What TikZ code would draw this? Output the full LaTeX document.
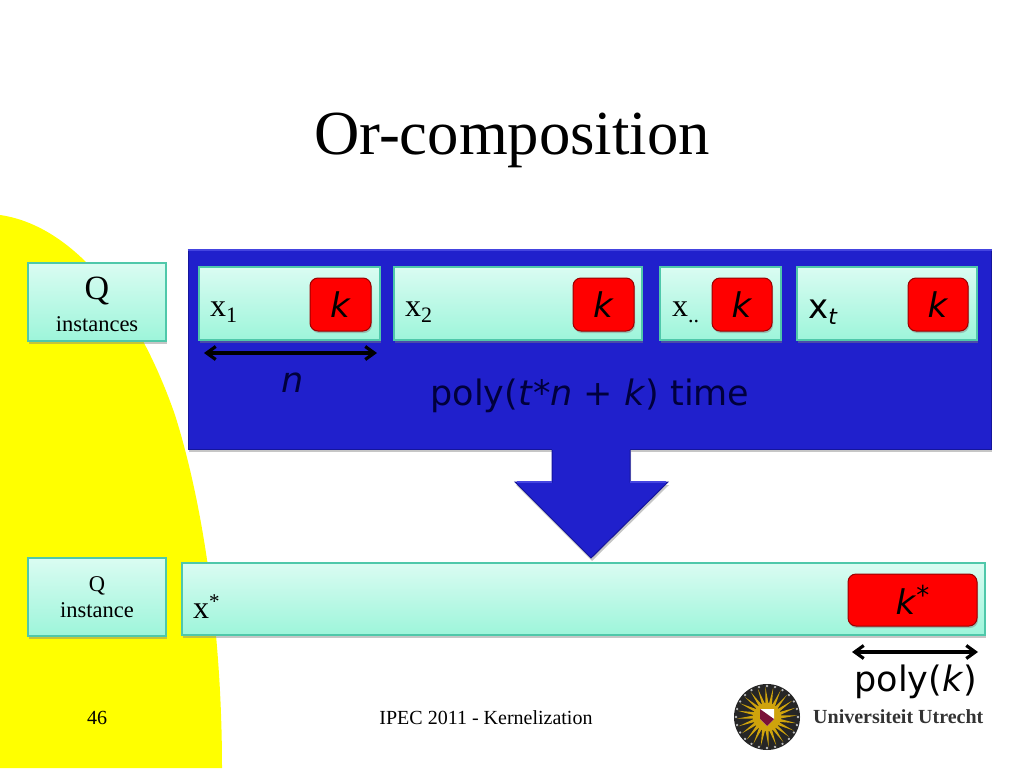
\documentclass[tikz,border=0pt]{standalone}
\usepackage{fontspec}
\setmainfont{Liberation Serif}
\setsansfont{DejaVu Sans}
\usetikzlibrary{shadows}
\usetikzlibrary{arrows.meta}
\definecolor{swoosh}{RGB}{255,255,0}
\definecolor{boxtop}{HTML}{DAFCF2}
\definecolor{boxbot}{HTML}{9DF5DA}
\definecolor{boxline}{HTML}{4FC8AA}
\definecolor{blueline}{HTML}{15159C}
\definecolor{bluelite}{HTML}{4444E0}
\definecolor{bluefill}{HTML}{2020CC}
\definecolor{navy}{HTML}{00003C}
\definecolor{sealgold}{HTML}{CFA30C}
\definecolor{sealred}{HTML}{7A1038}
\definecolor{kred}{RGB}{255,0,0}
\tikzstyle{inst}=[draw=boxline,line width=1.1pt,rectangle,top color=boxtop,bottom color=boxbot,inner sep=0pt,drop shadow={shadow xshift=1pt,shadow yshift=-3pt,opacity=.45}]
\tikzstyle{kbox}=[draw=red!60!black,line width=1pt,rectangle,rounded corners=8pt,fill=kred,inner sep=0pt,minimum height=53pt,text=black,font=\sffamily\fontsize{34}{34}\selectfont,drop shadow={shadow xshift=1pt,shadow yshift=-2pt,opacity=.45}]
\tikzstyle{lab}=[inner sep=0pt,anchor=west,font=\fontsize{32}{32}\selectfont]
\tikzstyle{big}=[inner sep=0pt,text=navy,font=\sffamily\fontsize{35}{35}\selectfont]
\tikzstyle{dim}=[{Straight Barb[length=9pt,width=13pt]}-{Straight Barb[length=9pt,width=13pt]},line width=3.2pt]
\def\subs#1{\raisebox{-6pt}{\fontsize{22}{22}\selectfont #1}}
\begin{document}
\begin{tikzpicture}[x=1pt,y=-1pt]
    \useasboundingbox (0,0) rectangle (1024,768);
    % yellow swoosh
    \fill [swoosh] (0,215) .. controls (70,225) and (135,300) .. (175,415)
        .. controls (205,510) and (222,640) .. (222,768) -- (0,768) -- cycle;

    \node [inst, minimum width=138pt, minimum height=78pt] (Qs) at (97,302) {};
    \node [inner sep=0pt, font=\fontsize{34}{34}\selectfont] (lqs) at (97,291) {Q};
    \node [inner sep=0pt, font=\fontsize{22.5}{22.5}\selectfont] (lis) at (97,324) {instances};
    \node [inst, minimum width=138pt, minimum height=78pt, align=center] (Qi) at (97,597)
        {{\fontsize{22.5}{22.5}\selectfont Q}\\[6pt]{\fontsize{22.5}{22.5}\selectfont instance}};

    \node [draw=blueline, fill=bluefill, line width=1pt, minimum width=803pt, minimum height=199pt, inner sep=0pt,
        drop shadow={shadow xshift=1pt,shadow yshift=-3pt,opacity=.45}] (poly) at (589.5,349.5) {};
    \draw [bluelite, line width=2pt] (poly.north west) -- (poly.north east);
    \node [inst, minimum width=181pt, minimum height=73pt] (x1) at (289.5,303.5) {};
    \node [inst, minimum width=248pt, minimum height=73pt] (x2) at (518,303.5) {};
    \node [inst, minimum width=121pt, minimum height=73pt] (xd) at (720.5,303.5) {};
    \node [inst, minimum width=180pt, minimum height=73pt] (xt) at (887,303.5) {};
    \node [kbox, minimum width=61pt] (k1) at (340.5,304.5) {\textit{k}};
    \node [kbox, minimum width=61pt] (k2) at (603.5,304.5) {\textit{k}};
    \node [kbox, minimum width=60pt] (k3) at (742,304.5) {\textit{k}};
    \node [kbox, minimum width=60pt] (k4) at (938,304.5) {\textit{k}};
    \node [lab] (lx1) at (210,312) {x\subs{1}};
    \node [lab] (lx2) at (405,312) {x\subs{2}};
    \node [lab] (lxd) at (672,312) {x\subs{..}};
    \node [lab, font=\sffamily\fontsize{34}{34}\selectfont] (lxt) at (808,312) {x\subs{\textit{t}}};

    \coordinate (nl) at (204,353);
    \coordinate (nr) at (377,353);
    \path [dim] (nl) edge (nr);
    \node [big] (n) at (293,383) {\textit{n}};
    \node [big] (time) at (590,396) {poly(\textit{t}*\textit{n} + \textit{k}) time};

    % down arrow
    \fill [bluefill, drop shadow={shadow xshift=1pt,shadow yshift=-3pt,opacity=.45}]
        (552,449) -- (630,449) -- (630,482) -- (668,482) -- (591,558) -- (515,482) -- (552,482) -- cycle;
    \draw [blueline, line width=1pt] (552,450) -- (552,482) -- (515,482) -- (591,558) -- (668,482) -- (630,482) -- (630,450);
    \draw [bluelite, line width=1.5pt] (517,482) -- (552,482) (630,482) -- (666,482);

    \node [inst, minimum width=803pt, minimum height=72pt] (xs) at (583.5,599) {};
    \node [kbox, minimum width=129pt, minimum height=52pt] (ks) at (912.5,600) {\textit{k}\raisebox{10pt}{\fontsize{26}{26}\selectfont *}};
    \node [lab] (lxs) at (193,607) {x\raisebox{10pt}{\fontsize{21}{21}\selectfont *}};

    \coordinate (pl) at (852,652);
    \coordinate (pr) at (978,652);
    \path [dim] (pl) edge (pr);
    \node [big, text=black] (pk) at (916,682) {poly(\textit{k})};

    % footer
    \node [font=\fontsize{20}{20}\selectfont, inner sep=0pt] (num) at (97,718) {46};
    \node [font=\fontsize{20}{20}\selectfont, inner sep=0pt] (foot) at (486,718) {IPEC 2011 - Kernelization};
    \node [font=\fontsize{62.7}{63}\selectfont, inner sep=0pt] (title) at (512,140) {Or-composition};

    % seal
    \fill [black!85] (767,717) circle (33);
    \foreach \a in {0,15,...,345} {
        \fill [sealgold] (767,717) ++(\a-7:13) -- ++(\a:17) -- ([shift={(\a+7:13)}]767,717) -- cycle;
        \fill [white!75!black] (767,717) ++(\a:31) circle (1.3);
    }
    \fill [sealgold] (767,717) circle (14);
    \fill [white] (760,709) -- (774,709) -- (774,719) -- (767,726) -- (760,719) -- cycle;
    \fill [sealred] (760,709) -- (774,719) -- (767,726) -- (760,719) -- cycle;
    \node [font=\bfseries\fontsize{20}{20}\selectfont, text=black!80, inner sep=0pt, anchor=west] (uu) at (813,717) {Universiteit Utrecht};
\end{tikzpicture}
\end{document}
